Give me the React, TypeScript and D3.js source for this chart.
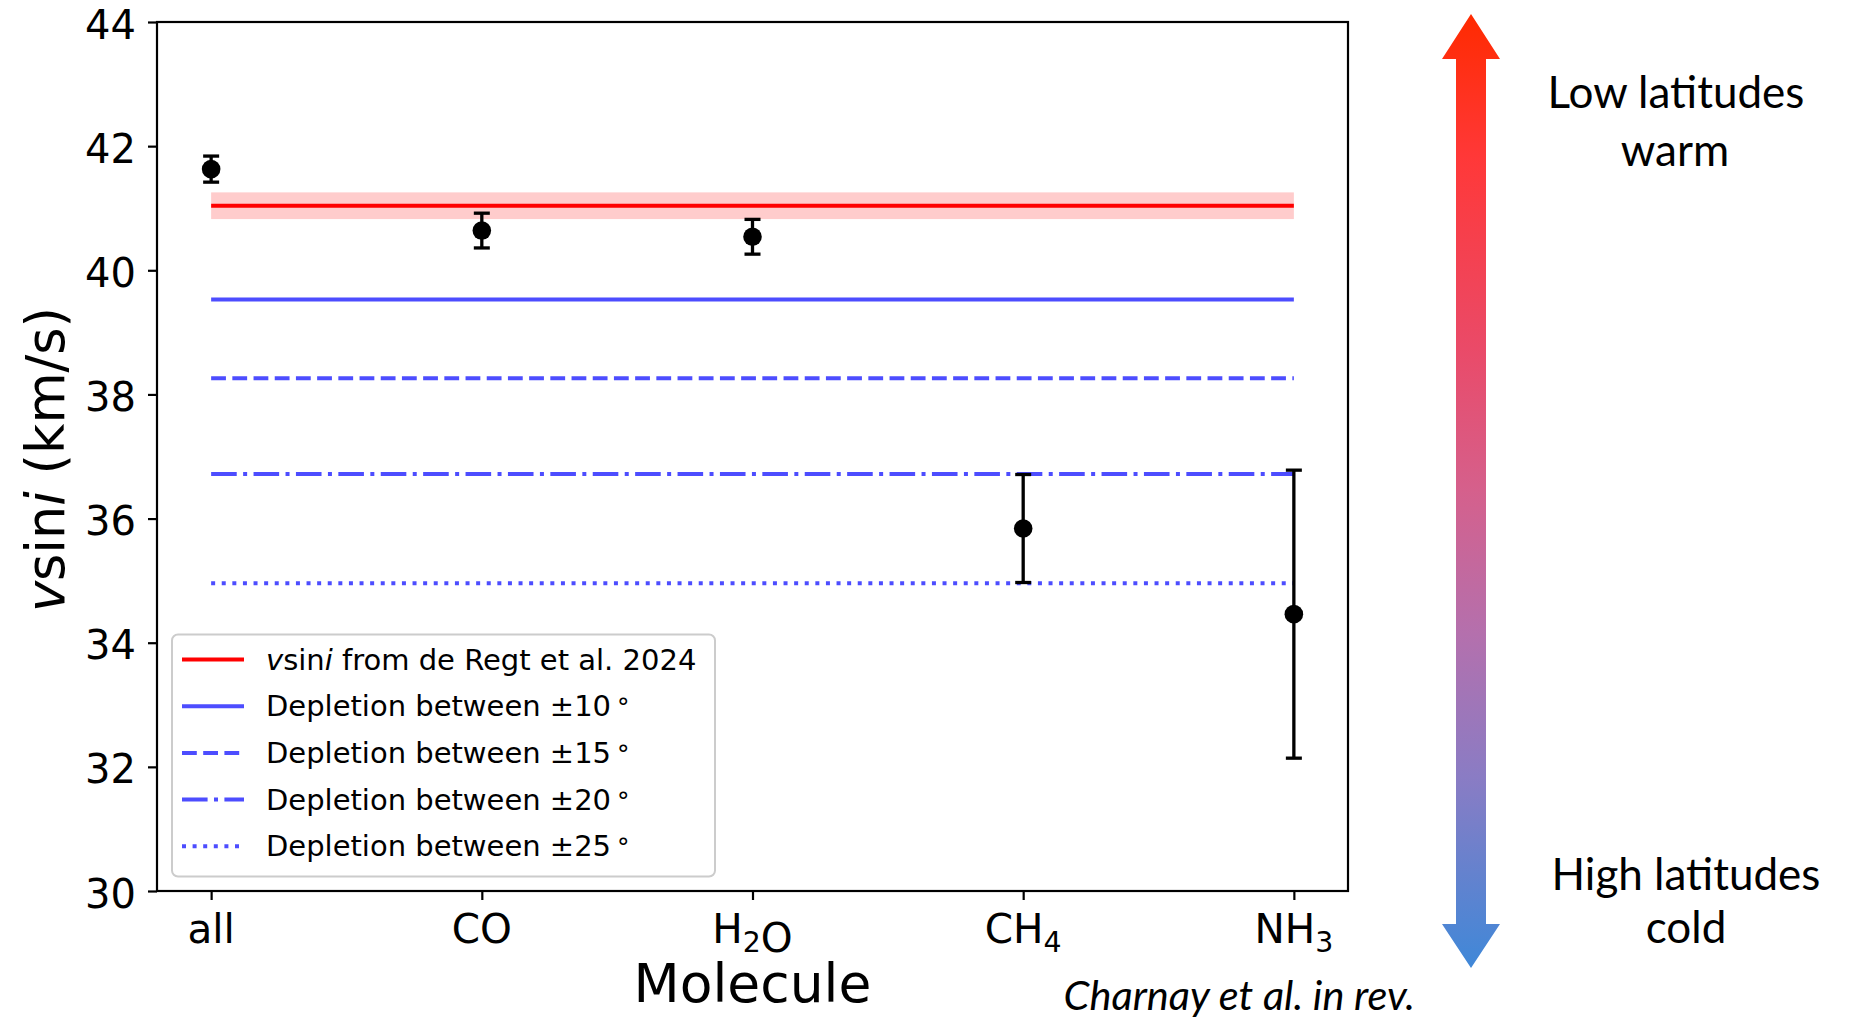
import React, { useEffect, useRef } from 'react'
import * as d3 from 'd3'

// Molecules on the x axis (digits are drawn as subscripts)
const molecules = ['all', 'CO', 'H2O', 'CH4', 'NH3']
// Retrieved vsini per molecule (km/s) and 1-sigma errors
const vsini = [41.63, 40.64, 40.54, 35.84, 34.46]
const vsiniErr = [0.21, 0.28, 0.28, 0.87, 2.32]

// Literature value (de Regt et al. 2024)
const refVsini = 41.04
const refErr = 0.215

// Predicted vsini when depleted between +-deg latitude
const depletionDeg = [10, 15, 20, 25]
const depletionVsini = [39.53, 38.26, 36.72, 34.96]

const yTicks = [30, 32, 34, 36, 38, 40, 42, 44]

// puts digits of a formula in subscript tspans
function formula(sel: any, label: string, size: number) {
  label.split(/(\d+)/).forEach((part) => {
    if (!part) return
    if (/^\d+$/.test(part)) {
      sel
        .append('tspan')
        .attr('font-size', size * 0.7)
        .attr('dy', size * 0.22)
        .text(part)
      sel.append('tspan').attr('dy', -size * 0.22).text('')
    } else {
      sel.append('tspan').text(part)
    }
  })
}

export default function App() {
  const ref = useRef<SVGSVGElement>(null)

  useEffect(() => {
    const W = 1850,
      H = 1018
    const margin = { top: 22, right: 502, bottom: 127, left: 157 }
    const width = W - margin.left - margin.right
    const height = H - margin.top - margin.bottom
    const font = 'DejaVu Sans, sans-serif'
    const blue = '#4d4dff'
    const lw = 4
    // matplotlib line styles scaled by linewidth
    const dashes = ['none', '14.8,6.4', '25.6,6.4,4,6.4', '4,6.6']

    const svg = d3.select(ref.current)
    svg.selectAll('*').remove()

    const x = d3.scaleLinear().domain([-0.2, 4.2]).range([0, width])
    const y = d3.scaleLinear().domain([30, 44]).range([height, 0])

    const g = svg
      .append('g')
      .attr('transform', 'translate(' + margin.left + ',' + margin.top + ')')

    // Reference band + line
    g.append('rect')
      .attr('x', x(0))
      .attr('width', x(4) - x(0))
      .attr('y', y(refVsini + refErr))
      .attr('height', y(refVsini - refErr) - y(refVsini + refErr))
      .attr('fill', '#ffcccc')

    g.append('line')
      .attr('x1', x(0))
      .attr('x2', x(4))
      .attr('y1', y(refVsini))
      .attr('y2', y(refVsini))
      .attr('stroke', '#ff0000')
      .attr('stroke-width', lw)

    // Depletion lines
    g.selectAll('.depl')
      .data(depletionVsini)
      .enter()
      .append('line')
      .attr('class', 'depl')
      .attr('x1', x(0))
      .attr('x2', x(4))
      .attr('y1', (d) => y(d))
      .attr('y2', (d) => y(d))
      .attr('stroke', blue)
      .attr('stroke-width', lw)
      .attr('stroke-dasharray', (d, i) => dashes[i])

    // Error bars
    const eb = g
      .selectAll('.eb')
      .data(vsini)
      .enter()
      .append('g')
      .attr('class', 'eb')
    eb.append('line')
      .attr('x1', (d, i) => x(i))
      .attr('x2', (d, i) => x(i))
      .attr('y1', (d, i) => y(d + vsiniErr[i]))
      .attr('y2', (d, i) => y(d - vsiniErr[i]))
      .attr('stroke', 'black')
      .attr('stroke-width', 3.3)
    ;[1, -1].forEach((s) => {
      eb.append('line')
        .attr('x1', (d, i) => x(i) - 8)
        .attr('x2', (d, i) => x(i) + 8)
        .attr('y1', (d, i) => y(d + s * vsiniErr[i]))
        .attr('y2', (d, i) => y(d + s * vsiniErr[i]))
        .attr('stroke', 'black')
        .attr('stroke-width', 3.3)
    })
    eb.append('circle')
      .attr('cx', (d, i) => x(i))
      .attr('cy', (d) => y(d))
      .attr('r', 9.3)
      .attr('fill', 'black')

    // Axes
    const yAxis = g
      .append('g')
      .call(d3.axisLeft(y).tickValues(yTicks).tickSize(9).tickPadding(12))
    const xAxis = g
      .append('g')
      .attr('transform', 'translate(0,' + height + ')')
      .call(
        d3
          .axisBottom(x)
          .tickValues(d3.range(molecules.length))
          .tickSize(9)
          .tickFormat(() => '')
      )
    ;[xAxis, yAxis].forEach((a) => {
      a.select('.domain').remove()
      a.selectAll('.tick line').attr('stroke', 'black').attr('stroke-width', 2.2)
    })
    yAxis
      .selectAll('.tick text')
      .attr('font-family', font)
      .attr('font-size', 40)
      .attr('dy', '0.4em')
      .attr('fill', 'black')

    molecules.forEach((m, i) => {
      const t = g
        .append('text')
        .attr('x', x(i))
        .attr('y', height + 52)
        .attr('text-anchor', 'middle')
        .attr('font-family', font)
        .attr('font-size', 40.5)
      formula(t, m, 40.5)
    })

    // Frame
    g.append('rect')
      .attr('width', width)
      .attr('height', height)
      .attr('fill', 'none')
      .attr('stroke', 'black')
      .attr('stroke-width', 2.2)

    // Axis labels
    svg
      .append('text')
      .attr('x', margin.left + x(2))
      .attr('y', 1002)
      .attr('text-anchor', 'middle')
      .attr('font-family', font)
      .attr('font-size', 53.5)
      .text('Molecule')

    const yl = svg
      .append('text')
      .attr('transform', 'translate(64,' + (margin.top + height / 2 + 3) + ') rotate(-90)')
      .attr('text-anchor', 'middle')
      .attr('font-family', font)
      .attr('font-size', 52.5)
    yl.append('tspan').attr('font-style', 'italic').text('v')
    yl.append('tspan').text('sin')
    yl.append('tspan').attr('font-style', 'italic').text('i')
    yl.append('tspan').text(' (km/s)')

    // Legend
    const lg = svg.append('g').attr('transform', 'translate(172,634.5)')
    lg.append('rect')
      .attr('width', 543)
      .attr('height', 242)
      .attr('rx', 6)
      .attr('fill', 'white')
      .attr('fill-opacity', 0.8)
      .attr('stroke', '#cccccc')
      .attr('stroke-width', 2)
    const rowY = (i: number) => 25 + i * 46.7
    lg.append('line')
      .attr('x1', 10)
      .attr('x2', 72)
      .attr('y1', rowY(0))
      .attr('y2', rowY(0))
      .attr('stroke', '#ff0000')
      .attr('stroke-width', lw)
    const t0 = lg
      .append('text')
      .attr('x', 94)
      .attr('y', rowY(0) + 10)
      .attr('font-family', font)
      .attr('font-size', 29)
    t0.append('tspan').attr('font-style', 'italic').text('v')
    t0.append('tspan').text('sin')
    t0.append('tspan').attr('font-style', 'italic').text('i')
    t0.append('tspan').text(' from de Regt et al. 2024')

    depletionDeg.forEach((deg, i) => {
      lg.append('line')
        .attr('x1', 10)
        .attr('x2', 72)
        .attr('y1', rowY(i + 1))
        .attr('y2', rowY(i + 1))
        .attr('stroke', blue)
        .attr('stroke-width', lw)
        .attr('stroke-dasharray', dashes[i])
      const t = lg
        .append('text')
        .attr('x', 94)
        .attr('y', rowY(i + 1) + 10)
        .attr('font-family', font)
        .attr('font-size', 29)
      t.append('tspan').text('Depletion between \u00b1' + deg)
      t.append('tspan').attr('dx', 6).attr('font-size', 25).text('\u00b0')
    })

    // Gradient arrow on the right
    const grad = svg
      .append('defs')
      .append('linearGradient')
      .attr('id', 'arrowGrad')
      .attr('gradientUnits', 'userSpaceOnUse')
      .attr('x1', 0)
      .attr('x2', 0)
      .attr('y1', 14)
      .attr('y2', 968)
    const stops: [number, string][] = [
      [0, '#ff2a00'],
      [0.15, '#ff3838'],
      [0.35, '#ea4a68'],
      [0.5, '#d5608c'],
      [0.65, '#b470ad'],
      [0.8, '#8a7cc4'],
      [1, '#3f88d8'],
    ]
    stops.forEach(([o, c]) => grad.append('stop').attr('offset', o).attr('stop-color', c))

    const ax = 1471
    const arrowPts: [number, number][] = [
      [ax, 14],
      [ax + 29, 59],
      [ax + 15, 59],
      [ax + 15, 924],
      [ax + 29, 924],
      [ax, 968],
      [ax - 29, 924],
      [ax - 15, 924],
      [ax - 15, 59],
      [ax - 29, 59],
    ]
    svg
      .append('path')
      .attr('d', d3.line()(arrowPts) + 'Z')
      .attr('fill', 'url(#arrowGrad)')

    const side = 'Lato, Calibri, sans-serif'
    const sideText = (txt: string, cx: number, by: number) =>
      svg
        .append('text')
        .attr('x', cx)
        .attr('y', by)
        .attr('text-anchor', 'middle')
        .attr('font-family', side)
        .attr('font-size', 44)
        .text(txt)
    sideText('Low latitudes', 1676, 108)
    sideText('warm', 1675, 166)
    sideText('High latitudes', 1686, 890)
    sideText('cold', 1686, 943)

    svg
      .append('text')
      .attr('x', 1415)
      .attr('y', 1010)
      .attr('text-anchor', 'end')
      .attr('font-family', side)
      .attr('font-style', 'italic')
      .attr('font-size', 41.5)
      .text('Charnay et al. in rev.')
  }, [])

  return (
    <svg
      ref={ref}
      width={1850}
      height={1018}
      style={{ position: 'absolute', left: 0, top: 0, background: 'white' }}
    />
  )
}
